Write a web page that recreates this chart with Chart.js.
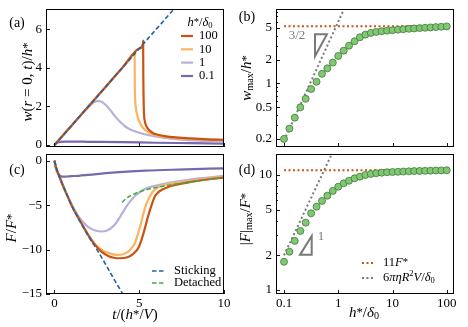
<!DOCTYPE html>
<html>
<head>
<meta charset="utf-8">
<title>Deflection and force</title>
<script src="https://cdn.jsdelivr.net/npm/chart.js@4.4.1/dist/chart.umd.min.js"></script>
<style>
  body { margin: 0; background: #fff; }
  #fig { position: relative; width: 468px; height: 327px; overflow: hidden; }
  #fig canvas { position: absolute; }
</style>
</head>
<body>
<div id="fig">
  <canvas id="panel-a" width="234" height="165" style="left:0;top:0"></canvas>
  <canvas id="panel-b" width="234" height="165" style="left:234px;top:0"></canvas>
  <canvas id="panel-c" width="234" height="187" style="left:0;top:140px"></canvas>
  <canvas id="panel-d" width="234" height="187" style="left:234px;top:140px"></canvas>
</div>
<script>
// (a) central deflection w(r=0,t)/h* against t/(h*/V), one curve per h*/delta0
const tA100 = [0, 1, 2, 3, 4, 5, 5.22, 5.23, 5.24, 5.26, 5.28, 5.32, 5.4, 5.5, 5.65, 5.8, 6.0, 6.5, 7, 8, 9, 10];
const wA100 = [0, 1, 2, 3, 4, 5, 5.22, 5.4, 3.6, 2.3, 1.65, 1.28, 1.02, 0.86, 0.72, 0.63, 0.56, 0.46, 0.41, 0.35, 0.3, 0.27];
const tA10 = [0, 1, 2, 3, 4, 4.5, 4.73, 4.735, 4.76, 4.8, 4.86, 4.95, 5.06, 5.2, 5.35, 5.6, 5.94, 6.4, 6.92, 7.5, 8.5, 10];
const wA10 = [0, 1, 2, 3, 4, 4.5, 4.73, 3.6, 2.4, 1.95, 1.64, 1.33, 1.12, 0.92, 0.78, 0.63, 0.52, 0.44, 0.38, 0.34, 0.3, 0.26];
const tA1 = [0, 1, 1.6, 1.9, 2.1, 2.3, 2.5, 2.7, 3.0, 3.3, 3.6, 3.9, 4.2, 4.5, 5.0, 5.5, 6.0, 6.5, 7.3, 8.5, 10];
const wA1 = [0, 1, 1.6, 1.88, 2.05, 2.2, 2.28, 2.27, 2.1, 1.8, 1.46, 1.18, 0.95, 0.8, 0.64, 0.52, 0.44, 0.37, 0.3, 0.23, 0.18];
const tA01 = [0, 0.1, 0.2, 0.35, 0.6, 1, 2, 4, 6, 8, 10];
const wA01 = [0, 0.09, 0.14, 0.17, 0.18, 0.18, 0.17, 0.15, 0.12, 0.1, 0.08];
const tStickA = [0, 7.5];
const wStickA = [0, 7.5];

// (c) force F/F*
const tStick = [0, 0.1, 0.25, 0.5, 0.75, 1, 1.5, 2, 2.5, 3, 3.5, 4, 4.2];
const fStick = [0, -0.8, -1.6, -2.8, -3.9, -5.0, -6.8, -8.5, -10.0, -11.6, -13.3, -14.9, -15.6];
const tC100 = [0, 0.1, 0.25, 0.5, 0.75, 1, 1.5, 2, 2.4, 2.8, 3.2, 3.5, 3.88, 4.25, 4.57, 4.8, 4.96, 5.15, 5.35, 5.5, 5.65, 5.8, 5.94, 6.1, 6.24, 6.6, 6.92, 7.4, 7.9, 8.9, 10];
const fC100 = [0, -0.8, -1.6, -2.8, -3.9, -5.0, -6.75, -8.4, -9.5, -10.3, -10.75, -10.92, -10.98, -10.9, -10.6, -10.2, -9.77, -8.8, -7.5, -6.4, -5.45, -4.6, -3.95, -3.6, -3.38, -3.05, -2.82, -2.62, -2.44, -2.15, -1.9];
const tC10 = [0, 0.1, 0.25, 0.5, 0.75, 1, 1.5, 2, 2.4, 2.8, 3.2, 3.69, 4.0, 4.37, 4.6, 4.76, 4.9, 5.06, 5.2, 5.35, 5.5, 5.65, 5.8, 5.94, 6.2, 6.53, 7.2, 7.9, 8.9, 10];
const fC10 = [0, -0.8, -1.6, -2.8, -3.9, -5.0, -6.75, -8.35, -9.4, -10.05, -10.4, -10.6, -10.55, -10.2, -9.7, -9.2, -8.4, -7.33, -6.3, -5.26, -4.5, -3.95, -3.5, -3.2, -2.9, -2.7, -2.5, -2.33, -2.05, -1.8];
const tC1 = [0, 0.1, 0.25, 0.5, 0.75, 1.04, 1.43, 1.75, 2.02, 2.4, 2.8, 3.1, 3.39, 3.6, 3.78, 4.0, 4.27, 4.5, 4.76, 5.16, 5.5, 5.94, 6.6, 7.31, 8.5, 10];
const fC1 = [0, -0.8, -1.6, -2.8, -3.9, -5.0, -6.3, -7.05, -7.5, -7.85, -7.97, -7.85, -7.5, -7.1, -6.6, -5.9, -5.08, -4.5, -3.95, -3.38, -3.05, -2.82, -2.55, -2.33, -2.0, -1.72];
const tC01 = [0, 0.05, 0.1, 0.2, 0.3, 0.45, 0.7, 1.0, 1.43, 2.0, 3.4, 5.35, 7.3, 10];
const fC01 = [0, -0.6, -0.95, -1.4, -1.65, -1.8, -1.78, -1.74, -1.7, -1.6, -1.35, -1.13, -1.0, -0.86];
const tDet = [3.98, 4.3, 4.76, 5.35, 6.33, 7.1, 7.9, 8.9, 10];
const fDet = [-4.7, -4.15, -3.7, -3.3, -2.9, -2.65, -2.44, -2.17, -1.9];

// (b), (d) maxima against h*/delta0
const hRatio = [0.1, 0.126, 0.158, 0.2, 0.251, 0.316, 0.398, 0.501, 0.631, 0.794, 1, 1.26, 1.58, 2, 2.51, 3.16, 3.98, 5.01, 6.31, 7.94, 10, 12.6, 15.8, 20, 25.1, 31.6, 39.8, 50.1, 63.1, 79.4, 100];
const wMax = [0.2, 0.27, 0.37, 0.5, 0.64, 0.85, 1.05, 1.32, 1.55, 1.83, 2.22, 2.59, 2.99, 3.4, 3.82, 4.12, 4.33, 4.46, 4.55, 4.62, 4.69, 4.76, 4.82, 4.88, 4.93, 4.98, 5.03, 5.08, 5.13, 5.18, 5.23];
const fMax = [1.76, 2.15, 2.67, 3.26, 3.85, 4.64, 5.3, 5.94, 6.6, 7.26, 7.9, 8.46, 8.9, 9.35, 9.66, 10.0, 10.2, 10.35, 10.45, 10.55, 10.6, 10.65, 10.7, 10.75, 10.8, 10.83, 10.86, 10.89, 10.92, 10.95, 10.98];
const hSat = [0.1, 100];
const wSat = [5.25, 5.25];
const fSat = [11, 11];
const hScaleB = [0.1, 1.35];
const wScale = [0.19, 9.4];
const hScaleD = [0.1, 0.8];
const fScale = [2.0, 16];

// tick values and labels
const ticksT = [0, 5, 10];
const ticksW = [0, 2, 4, 6];
const ticksF = [0, -5, -10, -15];
const labelsF = ['0', '\u22125', '\u221210', '\u221215'];
const ticksH = [0.1, 1, 10, 100];
const labelsH = ['0.1', '1', '10', '100'];
const ticksWmax = [0.2, 0.5, 1, 2, 5];
const ticksFmax = [1, 2, 5, 10];

const FONT = '"Liberation Serif", "DejaVu Serif", serif';
const C100 = '#c9530f', C10 = '#fdb361', C1 = '#b8b0d9', C01 = '#7868ad';
const CSTICK = '#1f62ad', CDET = '#3fae49', CRED = '#c4561c', CGRAY = '#7a7a7a';

// math-ish text: parts are [text, style]; i italic, p superscript, b subscript, a asterisk
function rich(ctx, parts, x, y, size, opt = {}) {
  const pieces = parts.map(([txt, st]) => {
    const small = st === 'p' || st === 'b' || st === 'ib';
    const ital = st === 'i' || st === 'ib';
    const fs = st === 'a' ? size * 0.85 : small ? size * 0.68 : size;
    const font = (ital ? 'italic ' : '') + fs + 'px ' + FONT;
    const dy = st === 'p' ? -size * 0.32 : (st === 'b' || st === 'ib') ? size * 0.24 : st === 'a' ? -size * 0.05 : 0;
    ctx.font = font;
    return { txt, font, dy, w: ctx.measureText(txt).width };
  });
  const total = pieces.reduce((s, p) => s + p.w, 0);
  ctx.save();
  ctx.translate(x, y);
  if (opt.rot) ctx.rotate(-Math.PI / 2);
  ctx.fillStyle = opt.color || '#000';
  ctx.textBaseline = 'middle';
  ctx.textAlign = 'left';
  let cx = opt.align === 'left' ? 0 : -total / 2;
  for (const p of pieces) {
    ctx.font = p.font;
    ctx.fillText(p.txt, cx, p.dy);
    cx += p.w;
  }
  ctx.restore();
}

const H_OVER_D = [['h', 'i'], ['*', 'a'], ['/', ''], ['\u03b4', 'i'], ['0', 'b']];

// per panel decoration: canvas offset, padding, texts, legends, slope triangles
const deco = {
  'panel-a': {
    off: [0, 0], pad: { left: 0, top: 9, right: 10, bottom: 0 },
    texts: [
      { parts: [['(a)', '']], x: 17, y: 23, size: 14 },
      { parts: [['w', 'i'], ['(', ''], ['r', 'i'], [' = 0, ', ''], ['t', 'i'], [')/', ''], ['h', 'i'], ['*', 'a']], x: 28, y: 82, size: 15, rot: true }
    ],
    legend: {
      title: H_OVER_D, titleX: 200, titleY: 23, x0: 181, x1: 193, tx: 199,
      rows: [
        { y: 36, color: C100, width: 2.2, parts: [['100', '']] },
        { y: 49.3, color: C10, width: 2.2, parts: [['10', '']] },
        { y: 62.6, color: C1, width: 2.2, parts: [['1', '']] },
        { y: 76, color: C01, width: 2.2, parts: [['0.1', '']] }
      ]
    }
  },
  'panel-b': {
    off: [234, 0], pad: { left: 0, top: 9, right: 14, bottom: 0 },
    minorY: [0.3, 0.4, 0.6, 0.7, 0.8, 0.9, 3, 4, 6, 7, 8],
    texts: [
      { parts: [['(b)', '']], x: 247, y: 17, size: 14 },
      { parts: [['w', 'i'], ['max', 'b'], ['/', ''], ['h', 'i'], ['*', 'a']], x: 247, y: 78, size: 15, rot: true },
      { parts: [['3/2', '']], x: 297, y: 36, size: 13, color: CGRAY }
    ],
    tris: [[[0.373, 4.17], [0.62, 4.17], [0.373, 2.2]]]
  },
  'panel-c': {
    off: [0, 140], pad: { left: 0, top: 14, right: 10, bottom: 0 },
    texts: [
      { parts: [['(c)', '']], x: 17, y: 170, size: 14 },
      { parts: [['F', 'i'], ['/', ''], ['F', 'i'], ['*', 'a']], x: 12, y: 228, size: 15, rot: true },
      { parts: [['t', 'i'], ['/(', ''], ['h', 'i'], ['*', 'a'], ['/', ''], ['V', 'i'], [')', '']], x: 135, y: 315, size: 15 }
    ],
    legend: {
      x0: 152, x1: 164, tx: 174,
      rows: [
        { y: 271, color: CSTICK, width: 1.6, dash: [4.5, 2.5], parts: [['Sticking', '']] },
        { y: 283, color: CDET, width: 1.6, dash: [4.5, 2.5], parts: [['Detached', '']] }
      ]
    }
  },
  'panel-d': {
    off: [234, 140], pad: { left: 0, top: 14, right: 14, bottom: 0 },
    minorY: [3, 4, 6, 7, 8, 9],
    texts: [
      { parts: [['(d)', '']], x: 247, y: 170, size: 14 },
      { parts: [['|', ''], ['F', 'i'], ['|', ''], ['max', 'b'], ['/', ''], ['F', 'i'], ['*', 'a']], x: 246, y: 219, size: 15, rot: true },
      { parts: H_OVER_D, x: 364, y: 313, size: 15 },
      { parts: [['1', '']], x: 321, y: 237, size: 13, color: CGRAY }
    ],
    tris: [[[0.197, 2.02], [0.324, 2.02], [0.324, 2.95]]],
    legend: {
      x0: 362, x1: 375, tx: 383,
      rows: [
        { y: 263, color: CRED, width: 2, dash: [2, 2.5], parts: [['11', ''], ['F', 'i'], ['*', 'a']] },
        { y: 278, color: CGRAY, width: 2, dash: [2, 2.5], parts: [['6', ''], ['\u03c0', 'i'], ['\u03b7', 'i'], ['R', 'i'], ['2', 'p'], ['V', 'i'], ['/', ''], ['\u03b4', 'i'], ['0', 'b']] }
      ]
    }
  }
};

const decoPlugin = {
  id: 'deco',
  afterDraw(chart) {
    const d = deco[chart.canvas.id];
    const ctx = chart.ctx, a = chart.chartArea;
    const sx = chart.scales.x, sy = chart.scales.y;
    const ox = d.off[0], oy = d.off[1];
    ctx.save();
    ctx.strokeStyle = '#000';
    ctx.lineWidth = 0.9;
    const tick = (s, v, len) => {
      const p = Math.round(s.getPixelForValue(v)) + 0.5;
      ctx.beginPath();
      if (s.isHorizontal()) {
        ctx.moveTo(p, a.bottom); ctx.lineTo(p, a.bottom - len);
      } else {
        ctx.moveTo(a.left, p); ctx.lineTo(a.left + len, p);
      }
      ctx.stroke();
    };
    sx.ticks.forEach(t => tick(sx, t.value, 4));
    sy.ticks.forEach(t => tick(sy, t.value, 4));
    (d.minorY || []).forEach(v => tick(sy, v, 2));
    ctx.lineWidth = 1;
    ctx.strokeRect(a.left + 0.5, a.top + 0.5, a.right - a.left - 1, a.bottom - a.top - 1);

    // slope triangles
    (d.tris || []).forEach(tr => {
      ctx.save();
      ctx.strokeStyle = CGRAY;
      ctx.lineWidth = 2;
      ctx.beginPath();
      tr.forEach(([x, y], i) => {
        const px = sx.getPixelForValue(x), py = sy.getPixelForValue(y);
        if (i) ctx.lineTo(px, py); else ctx.moveTo(px, py);
      });
      ctx.closePath();
      ctx.stroke();
      ctx.restore();
    });

    // legend
    if (d.legend) {
      const L = d.legend;
      if (L.title) rich(ctx, L.title, L.titleX - ox, L.titleY - oy, 12.5);
      L.rows.forEach(r => {
        ctx.save();
        ctx.strokeStyle = r.color;
        ctx.lineWidth = r.width;
        ctx.setLineDash(r.dash || []);
        ctx.beginPath();
        ctx.moveTo(L.x0 - ox, r.y - oy);
        ctx.lineTo(L.x1 - ox, r.y - oy);
        ctx.stroke();
        ctx.restore();
        rich(ctx, r.parts, L.tx - ox, r.y - oy, 12.5, { align: 'left' });
      });
    }

    d.texts.forEach(t => rich(ctx, t.parts, t.x - ox, t.y - oy, t.size, { rot: t.rot, color: t.color }));
    ctx.restore();
  }
};

function axis(c, isX) {
  return {
    type: c.log ? 'logarithmic' : 'linear',
    min: c.min,
    max: c.max,
    grid: { display: false, drawTicks: false },
    border: { display: false },
    ticks: {
      display: !!c.labels,
      autoSkip: false,
      maxRotation: 0,
      minRotation: 0,
      padding: isX ? 2 : 4,
      color: '#000',
      font: { family: FONT, size: 13 },
      callback: (v, i) => (c.labels ? c.labels[i] : '')
    },
    afterBuildTicks: s => { s.ticks = c.ticks.map(v => ({ value: v })); },
    afterFit: s => {
      if (isX) s.height = c.band; else s.width = c.band;
      s.paddingTop = s.paddingBottom = s.paddingLeft = s.paddingRight = 0;
    }
  };
}

function curve(xs, ys, color, width, dash) {
  return {
    data: xs.map((x, i) => ({ x, y: ys[i] })),
    borderColor: color,
    borderWidth: width,
    borderDash: dash || [],
    pointRadius: 0,
    showLine: true,
    fill: false,
    cubicInterpolationMode: 'monotone'
  };
}

function dots(xs, ys) {
  return {
    data: xs.map((x, i) => ({ x, y: ys[i] })),
    showLine: false,
    pointRadius: 3.5,
    pointBackgroundColor: '#80c872',
    pointBorderColor: '#44763d',
    pointBorderWidth: 0.8
  };
}

function panel(id, xCfg, yCfg, datasets) {
  return new Chart(document.getElementById(id), {
    type: 'scatter',
    data: { datasets },
    options: {
      responsive: false,
      animation: false,
      events: [],
      layout: { padding: deco[id].pad },
      plugins: { legend: { display: false }, tooltip: { enabled: false } },
      scales: { x: axis(xCfg, true), y: axis(yCfg, false) }
    },
    plugins: [decoPlugin]
  });
}

const dotted = [2, 2.5];
const dashed = [4.5, 2.5];

panel('panel-a',
  { min: -0.5, max: 10, ticks: ticksT, labels: null, band: 18 },
  { min: -0.1, max: 7.05, ticks: ticksW, labels: ticksW.map(String), band: 46 },
  [
    curve(tStickA, wStickA, CSTICK, 1.6, dashed),
    curve(tA100, wA100, C100, 2.2),
    curve(tA10, wA10, C10, 2.2),
    curve(tA1, wA1, C1, 2.2),
    curve(tA01, wA01, C01, 2.2)
  ]);

panel('panel-b',
  { log: true, min: 0.0712, max: 136, ticks: ticksH, labels: null, band: 18 },
  { log: true, min: 0.158, max: 8.67, ticks: ticksWmax, labels: ticksWmax.map(String), band: 42 },
  [
    dots(hRatio, wMax),
    curve(hSat, wSat, CRED, 2, dotted),
    curve(hScaleB, wScale, CGRAY, 2, dotted)
  ]);

panel('panel-c',
  { min: -0.5, max: 10, ticks: ticksT, labels: ticksT.map(String), band: 33 },
  { min: -15, max: 0.75, ticks: ticksF, labels: labelsF, band: 46 },
  [
    curve(tStick, fStick, CSTICK, 1.6, dashed),
    curve(tDet, fDet, CDET, 1.6, dashed),
    curve(tC100, fC100, C100, 2.2),
    curve(tC10, fC10, C10, 2.2),
    curve(tC1, fC1, C1, 2.2),
    curve(tC01, fC01, C01, 2.2)
  ]);

panel('panel-d',
  { log: true, min: 0.0712, max: 136, ticks: ticksH, labels: labelsH, band: 33 },
  { log: true, min: 0.923, max: 15.2, ticks: ticksFmax, labels: ticksFmax.map(String), band: 42 },
  [
    dots(hRatio, fMax),
    curve(hSat, fSat, CRED, 2, dotted),
    curve(hScaleD, fScale, CGRAY, 2, dotted)
  ]);
</script>
</body>
</html>
